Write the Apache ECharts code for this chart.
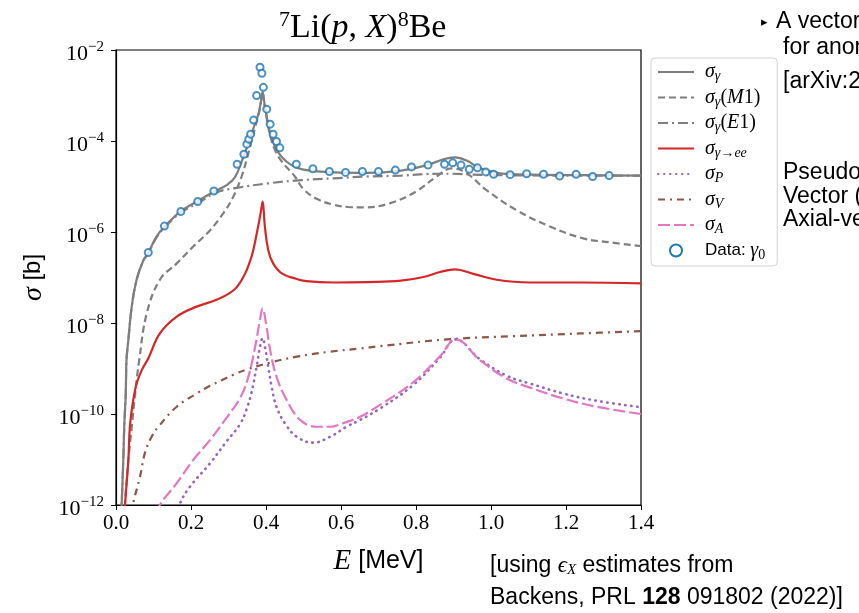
<!DOCTYPE html>
<html lang="en">
<head>
<meta charset="UTF-8">
<title>7Li(p,X)8Be</title>
<script src="https://cdn.jsdelivr.net/npm/echarts@6/dist/echarts.min.js"></script>
<style>
    html,body{margin:0;padding:0;background:#fff;}
    #main{width:859px;height:613px;}
</style>
</head>
<body>
<div id="main"></div>
<script>
    // every curve: [E in MeV, log10(sigma / b)]
    var sigGamma = [[0.013,-12.3],[0.015,-12],[0.0195,-11],[0.022,-10.28],[0.026,-9.55],[0.028,-8.81],[0.033,-8.37],
        [0.042,-7.64],[0.055,-7.05],[0.073,-6.62],[0.086,-6.46],[0.108,-6.1],[0.131,-5.87],[0.173,-5.54],[0.218,-5.32],
        [0.262,-5.11],[0.295,-4.97],[0.317,-4.8],[0.335,-4.45],[0.353,-4.05],[0.371,-3.61],[0.38,-3.4],[0.386,-3.15],
        [0.391,-2.92],[0.396,-3.18],[0.402,-3.47],[0.411,-3.83],[0.424,-4.12],[0.442,-4.35],[0.468,-4.53],[0.5,-4.63],
        [0.58,-4.69],[0.67,-4.7],[0.76,-4.65],[0.83,-4.53],[0.873,-4.4],[0.904,-4.36],[0.935,-4.43],[0.971,-4.6],
        [1.024,-4.71],[1.113,-4.74],[1.246,-4.75],[1.4,-4.76]];
    var sigM1 = [[0.022,-12.3],[0.024,-11.96],[0.033,-11],[0.042,-10.28],[0.051,-9.55],[0.062,-8.81],[0.082,-7.79],
        [0.117,-7.05],[0.162,-6.69],[0.206,-6.32],[0.251,-5.96],[0.286,-5.59],[0.313,-5.22],[0.335,-4.78],[0.353,-4.27],
        [0.371,-3.7],[0.384,-3.28],[0.391,-2.95],[0.396,-3.2],[0.402,-3.5],[0.411,-3.88],[0.424,-4.2],[0.442,-4.45],
        [0.477,-4.78],[0.499,-5.05],[0.535,-5.27],[0.58,-5.4],[0.62,-5.45],[0.66,-5.46],[0.73,-5.37],[0.8,-5.11],
        [0.855,-4.78],[0.895,-4.6],[0.935,-4.71],[0.988,-5.08],[1.068,-5.52],[1.157,-5.88],[1.246,-6.14],[1.32,-6.23],[1.4,-6.31]];
    var sigE1 = [[0.013,-12.3],[0.015,-12],[0.0195,-11],[0.022,-10.28],[0.026,-9.55],[0.028,-8.81],[0.033,-8.37],
        [0.042,-7.64],[0.055,-7.05],[0.073,-6.63],[0.086,-6.47],[0.108,-6.12],[0.131,-5.89],[0.173,-5.57],[0.218,-5.37],
        [0.268,-5.13],[0.322,-5.03],[0.406,-4.93],[0.495,-4.86],[0.58,-4.82],[0.67,-4.78],[0.76,-4.76],[0.86,-4.72],
        [0.9,-4.72],[0.95,-4.74],[1.0,-4.75],[1.2,-4.76],[1.4,-4.76]];
    var sigEE = [[0.022,-12.3],[0.024,-12],[0.033,-11],[0.037,-10.28],[0.046,-9.69],[0.055,-9.33],[0.069,-9.03],
        [0.086,-8.78],[0.117,-8.23],[0.162,-7.86],[0.215,-7.64],[0.268,-7.49],[0.315,-7.27],[0.342,-6.95],[0.357,-6.65],
        [0.366,-6.4],[0.379,-5.88],[0.387,-5.52],[0.391,-5.33],[0.397,-5.88],[0.406,-6.4],[0.419,-6.69],[0.442,-6.91],
        [0.477,-7.02],[0.508,-7.08],[0.58,-7.11],[0.67,-7.1],[0.76,-7.07],[0.82,-6.99],[0.864,-6.88],[0.904,-6.82],
        [0.953,-6.92],[1.015,-7.05],[1.104,-7.11],[1.237,-7.11],[1.4,-7.13]];
    var sigP = [[0.165,-12.2],[0.171,-11.96],[0.197,-11.6],[0.251,-11.08],[0.295,-10.6],[0.331,-10.22],[0.348,-9.9],
        [0.361,-9.54],[0.375,-8.96],[0.384,-8.52],[0.391,-8.33],[0.397,-8.52],[0.406,-8.96],[0.415,-9.4],[0.428,-9.84],
        [0.451,-10.21],[0.482,-10.5],[0.526,-10.63],[0.571,-10.5],[0.615,-10.28],[0.651,-10.13],[0.704,-9.88],
        [0.793,-9.36],[0.864,-8.76],[0.906,-8.36],[0.971,-8.8],[1.042,-9.16],[1.104,-9.33],[1.193,-9.55],[1.282,-9.71],[1.4,-9.85]];
    var sigV = [[0.043,-12.2],[0.046,-11.96],[0.064,-11.38],[0.077,-10.86],[0.095,-10.5],[0.117,-10.24],[0.162,-9.84],
        [0.215,-9.55],[0.251,-9.38],[0.313,-9.14],[0.349,-9.02],[0.411,-8.87],[0.482,-8.74],[0.571,-8.63],[0.651,-8.56],
        [0.704,-8.51],[0.882,-8.36],[1.06,-8.29],[1.237,-8.23],[1.4,-8.18]];
    var sigA = [[0.112,-12.2],[0.117,-12],[0.162,-11.52],[0.206,-11.01],[0.251,-10.57],[0.295,-10.08],[0.331,-9.65],
        [0.353,-9.18],[0.371,-8.52],[0.384,-7.93],[0.391,-7.68],[0.4,-8.01],[0.411,-8.59],[0.428,-9.18],[0.455,-9.69],
        [0.491,-10.13],[0.535,-10.28],[0.571,-10.28],[0.606,-10.2],[0.651,-10.06],[0.704,-9.8],[0.793,-9.3],
        [0.864,-8.73],[0.906,-8.36],[0.971,-8.82],[1.042,-9.22],[1.104,-9.42],[1.193,-9.66],[1.282,-9.84],[1.4,-10]];
    // gamma_0 data points
    var dataGamma0 = [[0.086,-6.45],[0.129,-5.87],[0.173,-5.55],[0.218,-5.33],[0.261,-5.1],[0.323,-4.51],[0.341,-4.29],
        [0.349,-4.07],[0.354,-3.96],[0.359,-3.85],[0.367,-3.54],[0.375,-3],[0.384,-2.38],[0.389,-2.51],[0.393,-2.82],
        [0.402,-3.3],[0.411,-3.63],[0.419,-3.85],[0.428,-4.01],[0.437,-4.15],[0.481,-4.51],[0.525,-4.61],[0.569,-4.67],
        [0.612,-4.69],[0.657,-4.67],[0.7,-4.67],[0.745,-4.64],[0.788,-4.57],[0.832,-4.53],[0.876,-4.51],[0.898,-4.48],
        [0.92,-4.53],[0.942,-4.62],[0.964,-4.59],[0.986,-4.68],[1.007,-4.73],[1.051,-4.74],[1.095,-4.72],[1.14,-4.73],
        [1.183,-4.77],[1.227,-4.73],[1.271,-4.78],[1.315,-4.76]];

    var xTickLabels = ['0.0','0.2','0.4','0.6','0.8','1.0','1.2','1.4'];
    var yTickExps = [-12,-10,-8,-6,-4,-2];

    var serif = 'Liberation Serif';
    var sans = 'Liberation Sans';

    // log10 values -> cross section in barn
    function toBarn(arr){
        return arr.map(function(p){ return [p[0], Math.pow(10, p[1])]; });
    }

    function curve(name, arr, color, type, width){
        return {
            name: name, type: 'line', data: toBarn(arr), symbol: 'none', smooth: 0.4,
            lineStyle: {color: color, width: width || 2.2, type: type, cap: width ? 'round' : 'butt'},
            itemStyle: {color: color}, z: 2
        };
    }

    var legendText = {
        sg: '{g|}{s|σ}{sub|γ}',
        sgM1: '{g|}{s|σ}{sub|γ}{m|(}{s|M}{m|1)}',
        sgE1: '{g|}{s|σ}{sub|γ}{m|(}{s|E}{m|1)}',
        see: '{g|}{s|σ}{sub|γ→ee}',
        sP: '{g|}{s|σ}{sub|P}',
        sV: '{g|}{s|σ}{sub|V}',
        sA: '{g|}{s|σ}{sub|A}',
        data: '{g|}{t|Data: }{s|γ}{n|0}'
    };
    var legendNames = ['sg','sgM1','sgE1','see','sP','sV','sA','data'];

    var myChart = echarts.init(document.getElementById('main'));

    var option = {
        backgroundColor: '#fff',
        animation: false,
        title: {
            text: '{sup|7}{r|Li(}{i|p}{r|, }{i|X}{r|)}{sup|8}{r|Be}',
            left: 274, top: 4,
            textStyle: {
                fontWeight: 'normal',
                rich: {
                    r: {fontFamily: serif, fontSize: 34, fontWeight: 'normal', color: '#000'},
                    i: {fontFamily: serif, fontSize: 34, fontStyle: 'italic', fontWeight: 'normal', color: '#000'},
                    sup: {fontFamily: serif, fontSize: 22, fontWeight: 'normal', color: '#000', padding: [0, 0, 16, 0]}
                }
            }
        },
        grid: {left: 116, right: 218, top: 50, bottom: 108, show: true, borderColor: '#000', borderWidth: 1.2},
        legend: {
            orient: 'vertical', left: 651, top: 58,
            itemWidth: 36, itemHeight: 12, itemGap: 4,
            padding: [4, 12, 4, 6],
            backgroundColor: 'rgba(255,255,255,0.85)', borderColor: '#d3d3d3', borderWidth: 1, borderRadius: 4,
            // only the line samples, no marker on them
            itemStyle: {opacity: 0},
            data: legendNames.map(function(n){
                return n === 'data' ? {name: n, itemStyle: {opacity: 1}} : {name: n};
            }),
            formatter: function(name){ return legendText[name]; },
            textStyle: {
                color: '#000',
                rich: {
                    g: {width: 6},
                    s: {fontFamily: serif, fontStyle: 'italic', fontSize: 20, color: '#000', lineHeight: 20},
                    sub: {fontFamily: serif, fontStyle: 'italic', fontSize: 14, color: '#000', padding: [9, 0, 0, 0]},
                    m: {fontFamily: serif, fontSize: 20, color: '#000'},
                    t: {fontFamily: sans, fontSize: 17, color: '#000'},
                    n: {fontFamily: serif, fontSize: 14, color: '#000', padding: [9, 0, 0, 0]}
                }
            }
        },
        xAxis: {
            type: 'value', min: 0, max: 1.4, interval: 0.2,
            name: '{i|E}{r| [MeV]}', nameLocation: 'middle', nameGap: 42,
            nameTextStyle: {
                rich: {
                    i: {fontFamily: serif, fontStyle: 'italic', fontSize: 29, color: '#000'},
                    r: {fontFamily: sans, fontSize: 25, color: '#000'}
                }
            },
            splitLine: {show: false},
            axisLine: {onZero: false, lineStyle: {color: '#000', width: 1.2}},
            axisTick: {length: 5, lineStyle: {color: '#000'}},
            axisLabel: {
                fontFamily: serif, fontSize: 21, color: '#000', margin: 8,
                formatter: function(v){ return xTickLabels[Math.round(v / 0.2)]; }
            }
        },
        yAxis: {
            // base 100 puts the major ticks on every second decade
            type: 'log', logBase: 100, min: 1e-12, max: 1e-2,
            name: '{i|σ}{r| [b]}', nameLocation: 'middle', nameGap: 66, nameRotate: 90,
            nameTextStyle: {
                rich: {
                    i: {fontFamily: serif, fontStyle: 'italic', fontSize: 28, color: '#000'},
                    r: {fontFamily: sans, fontSize: 24, color: '#000'}
                }
            },
            splitLine: {show: false},
            minorTick: {show: false},
            axisLine: {lineStyle: {color: '#000', width: 1.2}},
            axisTick: {length: 5, lineStyle: {color: '#000'}},
            axisLabel: {
                margin: 12,
                formatter: function(v){
                    var e = Math.round(Math.log10(v));
                    if (yTickExps.indexOf(e) < 0) return '';
                    return '{b|10}{sup|−' + Math.abs(e) + '}';
                },
                rich: {
                    b: {fontFamily: serif, fontSize: 22, color: '#000', padding: [8, 0, 0, 0]},
                    sup: {fontFamily: serif, fontSize: 15, color: '#000', padding: [0, 0, 6, 0]}
                }
            }
        },
        series: [
            curve('sg', sigGamma, '#7f7f7f', 'solid'),
            curve('sgM1', sigM1, '#7f7f7f', [7, 4]),
            curve('sgE1', sigE1, '#7f7f7f', [10, 4, 2, 4]),
            curve('see', sigEE, '#d62728', 'solid'),
            curve('sP', sigP, '#9467bd', [0.5, 5.5], 2.6),
            curve('sV', sigV, '#8c564b', [7, 5, 2, 5]),
            curve('sA', sigA, '#e377c2', [12, 4]),
            {
                name: 'data', type: 'scatter', data: toBarn(dataGamma0), symbol: 'emptyCircle', symbolSize: 7,
                itemStyle: {color: '#1f77b4', borderWidth: 1.9}, z: 3
            }
        ],
        graphic: [
            {type: 'text', x: 761, y: 22, style: {text: '▸', font: '13px "Liberation Sans"', fill: '#000', verticalAlign: 'middle'}},
            {type: 'text', x: 776, y: 22, style: {text: 'A vector', font: '23px "Liberation Sans"', fill: '#000', verticalAlign: 'middle'}},
            {type: 'text', x: 783, y: 48, style: {text: 'for anor', font: '23px "Liberation Sans"', fill: '#000', verticalAlign: 'middle'}},
            {type: 'text', x: 783, y: 82, style: {text: '[arXiv:2', font: '23px "Liberation Sans"', fill: '#000', verticalAlign: 'middle'}},
            {type: 'text', x: 783, y: 173, style: {text: 'Pseudo', font: '23px "Liberation Sans"', fill: '#000', verticalAlign: 'middle'}},
            {type: 'text', x: 783, y: 197, style: {text: 'Vector (', font: '23px "Liberation Sans"', fill: '#000', verticalAlign: 'middle'}},
            {type: 'text', x: 783, y: 220, style: {text: 'Axial-ve', font: '23px "Liberation Sans"', fill: '#000', verticalAlign: 'middle'}},
            {type: 'text', x: 490, y: 566, style: {
                text: '{r|[using }{e|ϵ}{x|X}{r| estimates from}', verticalAlign: 'middle',
                rich: {
                    r: {fontFamily: sans, fontSize: 23, fill: '#000'},
                    e: {fontFamily: serif, fontStyle: 'italic', fontSize: 23, fill: '#000'},
                    x: {fontFamily: serif, fontStyle: 'italic', fontSize: 15, fill: '#000', padding: [9, 0, 0, 0]}
                }
            }},
            {type: 'text', x: 490, y: 598, style: {
                text: '{r|Backens, PRL }{b|128}{r| 091802 (2022)]}', verticalAlign: 'middle',
                rich: {
                    r: {fontFamily: sans, fontSize: 23, fill: '#000'},
                    b: {fontFamily: sans, fontSize: 23, fontWeight: 'bold', fill: '#000'}
                }
            }}
        ]
    };

    myChart.setOption(option);
</script>
</body>
</html>
